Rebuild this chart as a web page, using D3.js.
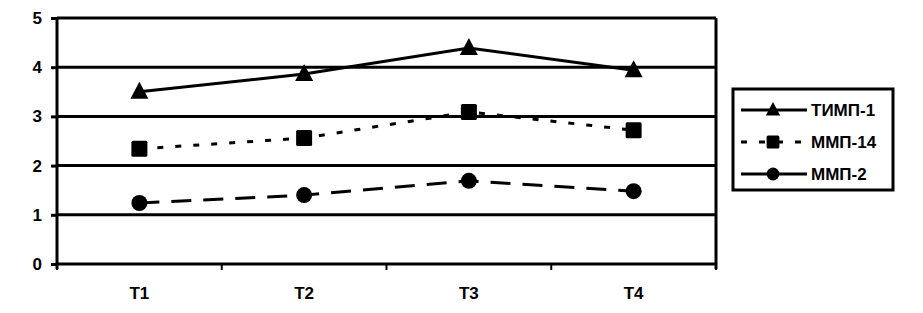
<!DOCTYPE html>
<html>
<head>
<meta charset="utf-8">
<script src="https://cdn.jsdelivr.net/npm/d3@7"></script>
<style>
  body { margin: 0; background: #fff; }
  text { font-family: Arial, "Liberation Sans", sans-serif; font-weight: bold; }
</style>
</head>
<body>
<div id="chart"></div>
<script>
const periods = ['T1', 'T2', 'T3', 'T4'];
const yTicks = [0, 1, 2, 3, 4, 5];
const timp1 = [3.50, 3.86, 4.39, 3.94];
const mmp14 = [2.34, 2.56, 3.09, 2.72];
const mmp2 = [1.24, 1.40, 1.69, 1.48];

const seriesList = [
    {name: 'ТИМП-1', values: timp1, marker: 'triangle', dash: null, legendDash: null},
    {name: 'ММП-14', values: mmp14, marker: 'square', dash: '6,12', legendDash: '6,12'},
    {name: 'ММП-2', values: mmp2, marker: 'circle', dash: '20,12', legendDash: null}
];

const width = 923;
const height = 313;
const margin = {top: 18, right: 207, bottom: 49, left: 57};

const svg = d3.select('#chart')
    .append('svg')
        .attr('width', width)
        .attr('height', height);

const xScale = d3.scaleBand()
    .domain(periods)
    .range([margin.left, width - margin.right]);

const yScale = d3.scaleLinear()
    .domain([0, 5])
    .range([height - margin.bottom, margin.top]);

// gridlines
svg.append('g')
    .selectAll('line')
    .data(yTicks)
    .join('line')
        .attr('x1', margin.left)
        .attr('x2', width - margin.right)
        .attr('y1', d => yScale(d))
        .attr('y2', d => yScale(d))
        .attr('stroke', '#000')
        .attr('stroke-width', 3);

// right border
svg.append('line')
    .attr('x1', width - margin.right)
    .attr('x2', width - margin.right)
    .attr('y1', yScale(5))
    .attr('y2', yScale(0) + 5)
    .attr('stroke', '#000')
    .attr('stroke-width', 3);

// y axis
const yAxis = svg.append('g')
    .attr('transform', `translate(${margin.left}, 0)`)
    .call(d3.axisLeft(yScale).tickValues(yTicks).tickSize(6).tickFormat(d3.format('d')));
yAxis.select('.domain').attr('stroke-width', 3).attr('d', `M0,${yScale(5)}V${yScale(0) + 5}`);
yAxis.selectAll('.tick line').attr('stroke-width', 3);
yAxis.selectAll('.tick text').attr('font-size', 17).attr('font-weight', 'bold').attr('x', -15).attr('fill', '#000');

// x axis
const xAxis = svg.append('g')
    .attr('transform', `translate(0, ${yScale(0)})`)
    .call(d3.axisBottom(xScale).tickSize(0).tickPadding(23));
xAxis.select('.domain').remove();
xAxis.selectAll('.tick text').attr('font-size', 17).attr('font-weight', 'bold').attr('fill', '#000');

// category separator ticks
const sepTicks = periods.map(p => xScale(p)).concat([xScale.range()[1]]);
svg.append('g')
    .selectAll('line')
    .data(sepTicks)
    .join('line')
        .attr('x1', d => d)
        .attr('x2', d => d)
        .attr('y1', yScale(0))
        .attr('y2', yScale(0) + 6)
        .attr('stroke', '#000')
        .attr('stroke-width', 2);

const cx = p => xScale(p) + xScale.bandwidth() / 2;

function drawMarker(g, type, x, y, s) {
    if (type === 'triangle') {
        g.append('path')
            .attr('d', `M${x},${y - 10 * s}L${x + 9 * s},${y + 7 * s}L${x - 9 * s},${y + 7 * s}Z`)
            .attr('fill', '#000');
    } else if (type === 'square') {
        g.append('rect')
            .attr('x', x - 8 * s).attr('y', y - 8 * s)
            .attr('width', 16 * s).attr('height', 16 * s)
            .attr('rx', 1.5)
            .attr('fill', '#000');
    } else {
        g.append('circle')
            .attr('cx', x).attr('cy', y).attr('r', 8 * s)
            .attr('fill', '#000');
    }
}

const line = d3.line()
    .x((d, i) => cx(periods[i]))
    .y(d => yScale(d));

seriesList.forEach(s => {
    svg.append('path')
        .datum(s.values)
        .attr('d', line)
        .attr('fill', 'none')
        .attr('stroke', '#000')
        .attr('stroke-width', 3)
        .attr('stroke-dasharray', s.dash);
    const g = svg.append('g');
    s.values.forEach((v, i) => drawMarker(g, s.marker, cx(periods[i]), yScale(v), 1));
});

// legend
const legendX = 733;
const legendY = 89;
svg.append('rect')
    .attr('x', legendX)
    .attr('y', legendY)
    .attr('width', 160)
    .attr('height', 101)
    .attr('fill', '#fff')
    .attr('stroke', '#000')
    .attr('stroke-width', 3);

seriesList.forEach((s, i) => {
    const y = legendY + 21 + i * 32;
    const g = svg.append('g');
    g.append('line')
        .attr('x1', legendX + 8)
        .attr('x2', legendX + 74)
        .attr('y1', y)
        .attr('y2', y)
        .attr('stroke', '#000')
        .attr('stroke-width', 3)
        .attr('stroke-dasharray', s.legendDash);
    drawMarker(g, s.marker, legendX + 40, y, 0.8);
    g.append('text')
        .attr('x', legendX + 78)
        .attr('y', y)
        .attr('dy', '0.36em')
        .attr('font-size', 17)
        .text(s.name);
});
</script>
</body>
</html>
